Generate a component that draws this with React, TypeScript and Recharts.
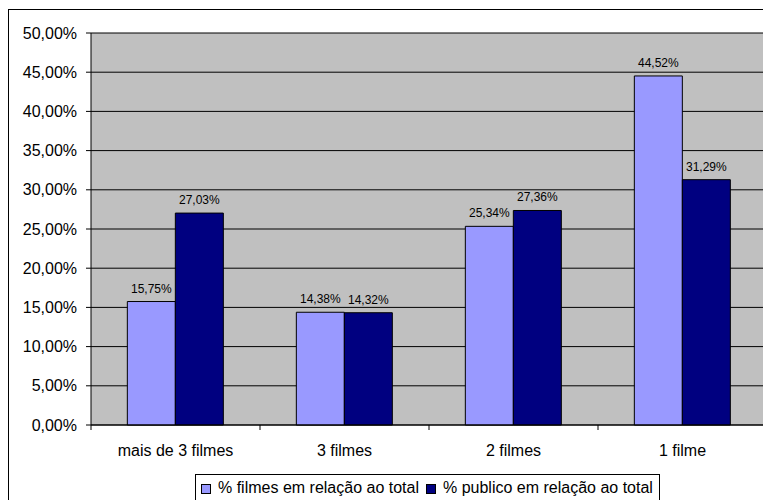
import React from 'react'
import { BarChart, Bar, CartesianGrid, XAxis, YAxis, Legend, LabelList } from 'recharts'

const categories = ['mais de 3 filmes', '3 filmes', '2 filmes', '1 filme']
const filmesPct = [15.75, 14.38, 25.34, 44.52]
const publicoPct = [27.03, 14.32, 27.36, 31.29]
const yTicks = [0, 5, 10, 15, 20, 25, 30, 35, 40, 45, 50]
const seriesNames = ['% filmes em relação ao total', '% publico em relação ao total']
const seriesColors = ['#9999FF', '#000080']

const data = categories.map((c, i) => ({ cat: c, filmes: filmesPct[i], publico: publicoPct[i] }))

const FONT = '"Liberation Sans", Arial, sans-serif'
const CHART_W = 780
const CHART_H = 500
const PLOT_LEFT = 91
const PLOT_RIGHT = 767
const band = (PLOT_RIGHT - PLOT_LEFT) / categories.length

const pct = (v: number) => v.toFixed(2).replace('.', ',') + '%'

function CategoryTick(props: any) {
  const { x, y, payload, index } = props
  return (
    <g>
      <line x1={x - band / 2} x2={x - band / 2} y1={y - 5} y2={y} stroke="#000" />
      {index === categories.length - 1 && (
        <line x1={x + band / 2} x2={x + band / 2} y1={y - 5} y2={y} stroke="#000" />
      )}
      <text x={x} y={y + 20} dy="0.355em" textAnchor="middle" fontSize={16} fill="#000" fontFamily={FONT}>
        {payload.value}
      </text>
    </g>
  )
}

function LegendBox() {
  return (
    <div
      style={{
        border: '1px solid #000',
        background: '#fff',
        height: 32,
        width: 465,
        boxSizing: 'border-box',
        display: 'flex',
        alignItems: 'flex-start',
        paddingTop: 4,
        paddingLeft: 5,
        fontFamily: FONT,
        fontSize: 16,
        lineHeight: '18px',
        color: '#000',
        whiteSpace: 'nowrap',
      }}
    >
      {seriesNames.map((name, i) => (
        <div key={name} style={{ display: 'flex', alignItems: 'center', marginRight: 7 }}>
          <span
            style={{
              display: 'inline-block',
              width: 8,
              height: 8,
              border: '1px solid #000',
              background: seriesColors[i],
              marginRight: 7,
              marginTop: 2,
            }}
          />
          <span>{name}</span>
        </div>
      ))}
    </div>
  )
}

export default function App() {
  return (
    <div style={{ position: 'absolute', left: 0, top: 0, width: 763, height: 500, overflow: 'hidden', background: '#fff' }}>
      <div
        style={{
          position: 'absolute',
          left: 8,
          top: 9,
          width: 800,
          height: 520,
          border: '1px solid #000',
          boxSizing: 'border-box',
        }}
      />
      <div style={{ position: 'absolute', left: 0, top: 0 }}>
        <BarChart
          width={CHART_W}
          height={CHART_H}
          data={data}
          margin={{ top: 33, right: CHART_W - PLOT_RIGHT, left: 0, bottom: 45 }}
          barCategoryGap="21.5%"
          barGap={0}
        >
          <CartesianGrid vertical={false} stroke="#000" fill="#C0C0C0" fillOpacity={1} />
          <XAxis
            dataKey="cat"
            height={30}
            tickSize={5}
            tickMargin={0}
            tickLine={false}
            axisLine={{ stroke: '#000' }}
            tick={<CategoryTick />}
            interval={0}
          />
          <YAxis
            width={PLOT_LEFT}
            domain={[0, 50]}
            ticks={yTicks}
            interval={0}
            tickFormatter={(v: number) => pct(v)}
            tickSize={5}
            tickMargin={9}
            tickLine={{ stroke: '#000' }}
            axisLine={{ stroke: '#000' }}
            tick={{ fill: '#000', fontSize: 16, fontFamily: FONT }}
          />
          <Legend
            content={() => <LegendBox />}
            wrapperStyle={{ position: 'absolute', left: 195, top: 474, height: 0, width: 465 }}
          />
          <Bar dataKey="filmes" name={seriesNames[0]} fill={seriesColors[0]} stroke="#000" strokeWidth={1} isAnimationActive={false}>
            <LabelList dataKey="filmes" position="top" offset={9} formatter={(v: any) => pct(Number(v))} fill="#000" fontSize={12} fontFamily={FONT} />
          </Bar>
          <Bar dataKey="publico" name={seriesNames[1]} fill={seriesColors[1]} stroke="#000" strokeWidth={1} isAnimationActive={false}>
            <LabelList dataKey="publico" position="top" offset={9} formatter={(v: any) => pct(Number(v))} fill="#000" fontSize={12} fontFamily={FONT} />
          </Bar>
        </BarChart>
      </div>
    </div>
  )
}
